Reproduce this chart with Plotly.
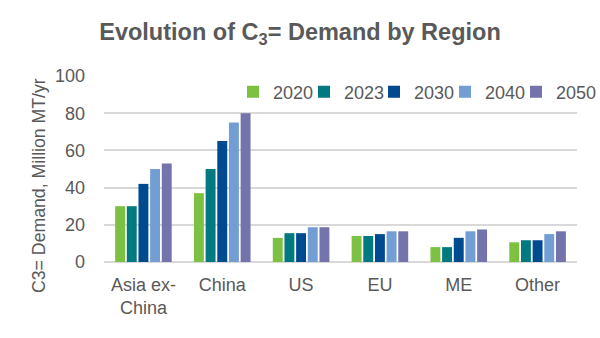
import plotly.graph_objects as go

regions = ["Asia ex-<br>China", "China", "US", "EU", "ME", "Other"]
years = ["2020", "2023", "2030", "2040", "2050"]
v2020 = [30, 37, 13, 14, 8, 10.6]
v2023 = [30, 50, 15.5, 14, 8, 11.7]
v2030 = [42, 65, 15.5, 15, 13, 11.7]
v2040 = [50, 75, 18.7, 16.5, 16.5, 15]
v2050 = [53, 80, 18.7, 16.5, 17.5, 16.5]
series = [v2020, v2023, v2030, v2040, v2050]
colors = ["#7DC142", "#007A80", "#004A8F", "#729ED3", "#7473AB"]
legend_x = [233, 304, 374, 445, 516]  # px positions of legend entries

font_color = "#595959"
fig = go.Figure()
legend_layout = {}
for i, (y, vals, c) in enumerate(zip(years, series, colors)):
    lname = "legend" if i == 0 else f"legend{i+1}"
    fig.add_trace(go.Bar(x=regions, y=vals, name=y, marker_color=c, marker_line_width=0,
                         legend=lname))
    legend_layout[lname] = dict(
        orientation="h", xref="container", yref="container",
        x=legend_x[i] / 600, y=1 - 92 / 338, xanchor="left", yanchor="middle",
        font=dict(size=18, color=font_color), bgcolor="rgba(0,0,0,0)",
        itemwidth=30, borderwidth=0)

fig.update_layout(
    width=600, height=338,
    margin=dict(l=104, r=23, t=76, b=76, autoexpand=False),
    paper_bgcolor="white", plot_bgcolor="white",
    font=dict(family="Liberation Sans, Arial, sans-serif", color=font_color, size=18),
    title=dict(text="<b>Evolution of C<sub>3</sub>= Demand by Region</b>",
               x=0.5, xanchor="center", y=0.905, yanchor="middle",
               font=dict(size=23.5, color=font_color)),
    barmode="group", bargap=0.26, bargroupgap=0.15,
    showlegend=True,
    xaxis=dict(showgrid=False, ticks="", tickfont=dict(size=18, color=font_color),
               showline=False, ticklabelstandoff=10),
    yaxis=dict(range=[0, 100], dtick=20, showgrid=True, gridcolor="#D9D9D9", gridwidth=1.5,
               zeroline=True, zerolinecolor="#D9D9D9", zerolinewidth=1.5,
               tickfont=dict(size=18, color=font_color), ticks="", ticklabelstandoff=18),
    annotations=[dict(text="C3= Demand, Million MT/yr", textangle=-90, showarrow=False,
                      xref="paper", yref="paper", x=(39 - 104) / 473, y=(262 - 186) / 186,
                      xanchor="center", yanchor="middle",
                      font=dict(size=17.7, color=font_color))],
    **legend_layout,
)
fig.write_html("out.html")
